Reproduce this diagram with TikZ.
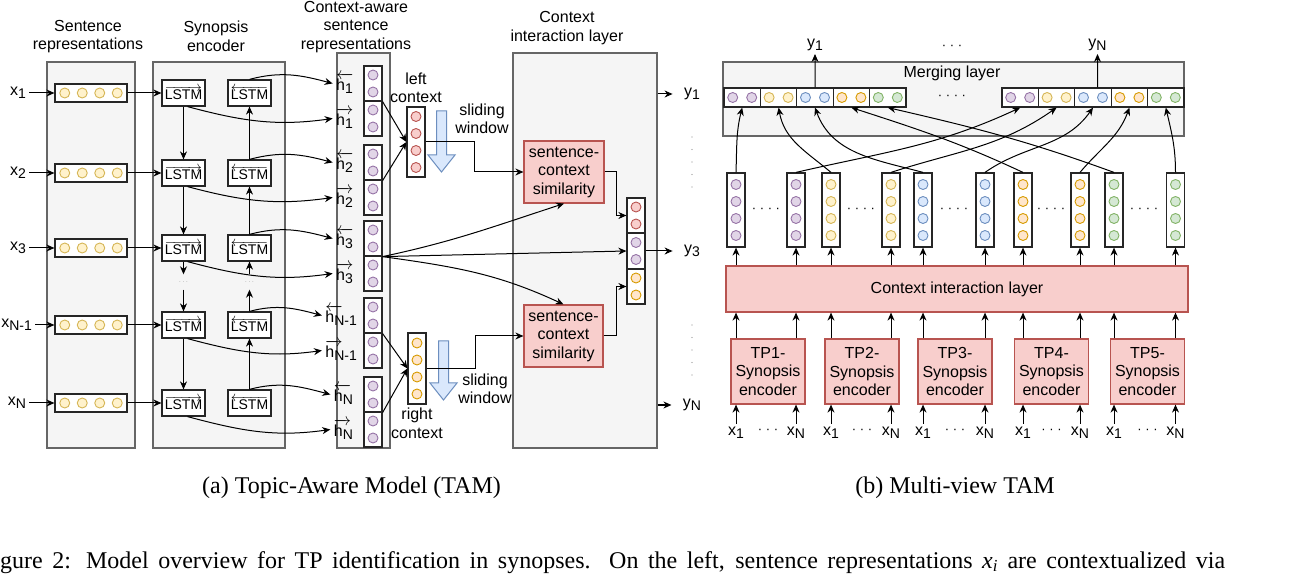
\documentclass[tikz,border=0pt]{standalone}
\usepackage{fontspec}
\setmainfont{Liberation Serif}
\setsansfont{Liberation Sans}
\usepackage{tikz}
\usetikzlibrary{positioning, arrows.meta}

\definecolor{panelfill}{HTML}{F5F5F5}
\definecolor{panelline}{HTML}{666666}
\definecolor{yelfill}{HTML}{FFF2CC}
\definecolor{yelline}{HTML}{D6B656}
\definecolor{purfill}{HTML}{E1D5E7}
\definecolor{purline}{HTML}{9673A6}
\definecolor{redfill}{HTML}{F8CECC}
\definecolor{redline}{HTML}{B85450}
\definecolor{orafill}{HTML}{FFE6CC}
\definecolor{oraline}{HTML}{D79B00}
\definecolor{blufill}{HTML}{DAE8FC}
\definecolor{bluline}{HTML}{6C8EBF}
\definecolor{grnfill}{HTML}{D5E8D4}
\definecolor{grnline}{HTML}{82B366}

\tikzstyle{panel}=[draw=panelline, fill=panelfill, line width=1.2pt, inner sep=0pt]
\tikzstyle{vec box}=[draw=black!85, fill=white, line width=1.2pt, inner sep=0pt]
\tikzset{bead/.style={circle, inner sep=0pt, minimum size=10pt, line width=0.9pt, fill=#1fill, draw=#1line}}
\tikzstyle{lstm box}=[vec box, minimum width=43pt, minimum height=26pt, font=\sffamily\fontsize{14}{16}\selectfont]
\tikzstyle{pink box}=[draw=redline, fill=redfill, line width=1.2pt, inner sep=0pt, align=center]
\tikzstyle{flow edge}=[-{Stealth[length=8pt,width=7pt]}, line width=1pt]
\tikzstyle{exit edge}=[flow edge, shorten >=8pt]
\tikzstyle{slide arrow}=[draw=bluline, fill=blufill, line width=1pt, line join=miter]
\tikzstyle{gap dots}=[inner sep=0pt, minimum height=15pt, font=\fontsize{6}{6}\selectfont, text=black!60]
\tikzstyle{caption}=[font=\rmfamily\fontsize{24}{28}\selectfont, inner sep=0pt]

\newcommand{\lowsub}[1]{\raisebox{-0.4ex}{\fontsize{14}{14}\selectfont #1}}
\newcommand{\hback}{\rlap{$\overleftarrow{\mbox{\phantom{h}}}$}h}
\newcommand{\hfwd}{\rlap{$\overrightarrow{\mbox{\phantom{h}}}$}h}
\newcommand{\threedots}{{\fontsize{13}{13}\selectfont\textperiodcentered\ \textperiodcentered\ \textperiodcentered}}
\newcommand{\fourdots}{{\fontsize{13}{13}\selectfont\textperiodcentered\ \textperiodcentered\ \textperiodcentered\ \textperiodcentered}}
% a row of four beads
\newcommand{\rowvec}[3]{
  \node [vec box, minimum width=72pt, minimum height=18pt] (#1) at (#2) {};
  \foreach \q/\off in {1/-26.25,2/-8.75,3/8.75,4/26.25}
    \node [bead=#3] (#1-\q) at ([xshift=\off pt]#1.center) {};
}
% a column of four beads
\newcommand{\colvec}[4][74pt]{
  \node [vec box, minimum width=18pt, minimum height=#1] (#2) at (#3) {};
  \foreach \q/\off in {1/25.5,2/8.5,3/-8.5,4/-25.5}
    \node [bead=#4] (#2-\q) at ([yshift=\off pt]#2.center) {};
}
% two beads stacked
\newcommand{\pairvec}[3]{
  \node [vec box, minimum width=18pt, minimum height=35pt] (#1) at (#2) {};
  \node [bead=#3] (#1-1) at ([yshift=8.5pt]#1.center) {};
  \node [bead=#3] (#1-2) at ([yshift=-8.5pt]#1.center) {};
}
% two beads side by side
\newcommand{\segvec}[3]{
  \node [vec box, minimum width=36.4pt, minimum height=19pt] (#1) at (#2) {};
  \node [bead=#3] (#1-1) at ([xshift=-9.5pt]#1.center) {};
  \node [bead=#3] (#1-2) at ([xshift=9.5pt]#1.center) {};
}
\newcommand{\windowarrow}[3]{
  \draw [slide arrow] (#1-5,#2) -- (#1+5,#2) -- (#1+5,#3+17) -- (#1+13.5,#3+17)
    -- (#1,#3) -- (#1-13.5,#3+17) -- (#1-5,#3+17) -- cycle
}

\begin{document}
\begin{tikzpicture}[x=1pt, y=1pt, font=\sffamily\fontsize{16}{18.5}\selectfont]
\path[use as bounding box, fill=white] (0,0) rectangle (1307,579);

% (a) topic-aware model
\node[panel, minimum width=88pt, minimum height=386pt] (sentpanel) at (91,324) {};
\node[panel, minimum width=132pt, minimum height=386pt] (synpanel) at (219,324) {};
\node[panel, minimum width=53pt, minimum height=395pt] (ctxpanel) at (363.5,328.5) {};
\node[panel, minimum width=144pt, minimum height=395pt] (cilpanel) at (585,328.5) {};
\node[align=center] (senttitle) at (88,542.5) {Sentence\\representations};
\node[align=center] (syntitle) at (216,542.5) {Synopsis\\encoder};
\node[align=center] (ctxtitle) at (356,552) {Context-aware\\sentence\\representations};
\node[align=center] (ciltitle) at (567,551) {Context\\interaction layer};

\foreach \r/\s/\ry/\jy/\xg/\hg in {1/1/486/478/25pt/7pt, 2/2/406/399/25pt/7pt,
    3/3/331/323/25pt/7pt, 4/N-1/254/246/19pt/3pt, 5/N/176/167/25pt/7pt} {
  \rowvec{sv\r}{91,\ry}{yel};
  \node[left=\xg of sv\r] (x\r) {x\lowsub{\s}};
  \node[lstm box] (fwd\r) at (183.5,\ry) {$\overrightarrow{\mbox{LSTM}}$};
  \node[lstm box] (bwd\r) at (249.5,\ry) {$\overleftarrow{\mbox{LSTM}}$};
  \pairvec{bk\r}{373,\jy+17.5}{pur};
  \pairvec{fw\r}{373,\jy-17.5}{pur};
  \node[left=\hg of bk\r] (lh\r) {\hback\lowsub{\s}};
  \node[left=\hg of fw\r] (rh\r) {\hfwd\lowsub{\s}};
  \draw[flow edge] (x\r) -- (sv\r);
  \draw[flow edge] (sv\r) -- (fwd\r);
  \draw[flow edge] (bwd\r.north) to[out=15,in=165] (lh\r.west);
  \draw[flow edge] ([xshift=4pt]fwd\r.south) to[out=-15,in=188] (rh\r.west);
}
\foreach \a/\b in {1/2, 2/3, 4/5} {
  \draw[flow edge] (fwd\a) -- (fwd\b);
  \draw[flow edge] (bwd\b) -- (bwd\a);
}
\node[gap dots] (fdots) at (183.5,297) {$\cdots$};
\node[gap dots] (bdots) at (249.5,297) {$\cdots$};
\draw[flow edge] (fwd3) -- (fdots);
\draw[flow edge] (fdots) -- (fwd4);
\draw[flow edge] (bdots) -- (bwd3);
\draw[flow edge] (bwd4) -- (bdots);

% left and right context
\colvec[70pt]{lc}{416,437}{red};
\colvec[71pt]{rc}{417,210.5}{ora};
\node[above=0pt of lc, align=center] (lclabel) {left\\context};
\node[below=0pt of rc, align=center] (rclabel) {right\\context};
\draw[flow edge] (bk1.south east) -- (lc.west);
\draw[flow edge] (bk2.south east) -- (lc.west);
\draw[flow edge] (bk4.south east) -- (rc.west);
\draw[flow edge] (bk5.south east) -- (rc.west);
\windowarrow{441.5}{468}{407};
\windowarrow{443.5}{238}{179};
\node[align=center] (sw1) at (482,460) {sliding\\window};
\node[align=center] (sw2) at (485,190) {sliding\\window};

\node[pink box, minimum width=80pt, minimum height=62pt] (sim1) at (564,407) {sentence-\\context\\similarity};
\node[pink box, minimum width=79pt, minimum height=62pt] (sim2) at (563.5,243) {sentence-\\context\\similarity};
\pairvec{cr}{636,363.5}{red};
\pairvec{cp}{636,328}{pur};
\pairvec{co}{636,292.5}{ora};
\draw[flow edge] (lc.east) -- ++(49,0) |- (sim1.west);
\draw[flow edge] (rc.east) -- ++(49,0) |- (sim2.west);
\draw[flow edge] (sim1.east) -- ++(12,0) |- (cr.west);
\draw[flow edge] (sim2.east) -- ++(13,0) |- (co.west);
\draw[flow edge] (bk3.south east) to[out=12,in=198] (sim1.south);
\draw[flow edge] (bk3.south east) -- (cp.west);
\draw[flow edge] (bk3.south east) to[out=-8,in=155] (sim2.north);

\node (y1) at (692,485) {y\lowsub{1}};
\node (y3) at (692,328) {y\lowsub{3}};
\node (yN) at (692,174) {y\lowsub{N}};
\draw[exit edge] (cilpanel.east |- y1) -- (y1);
\draw[exit edge] (cp.east) -- (y3);
\draw[exit edge] (cilpanel.east |- yN) -- (yN);
\foreach \yy in {442,429.5,417,404.5,392,254,241.5,229,216.5,204}
  \fill[black!45] (692,\yy) circle (0.7pt);

% (b) multi-view model
\node[panel, minimum width=461pt, minimum height=74pt] (mergepanel) at (953.5,480) {};
\node (mergetitle) at (952,506) {Merging layer};
\foreach \k/\cl in {1/pur,2/yel,3/blu,4/ora,5/grn} {
  \segvec{L\k}{705.8+36.4*\k,481.5}{\cl};
  \segvec{R\k}{983.8+36.4*\k,481.5}{\cl};
}
\node (mdots) at (952,481.5) {\fourdots};
\node (ydots) at (952,532) {\threedots};
\node[anchor=south] (ym1) at (815,525) {y\lowsub{1}};
\node[anchor=south] (ymN) at (1097.5,525) {y\lowsub{N}};
\draw[flow edge] (L3.north) -- (ym1);
\draw[flow edge] ([xshift=4.5pt]R3.north) -- (ymN);

\foreach \k/\vx/\cl in {1/736/pur, 2/796/pur, 3/831/yel, 4/891/yel, 5/923/blu,
    6/985/blu, 7/1023/ora, 8/1080/ora, 9/1114/grn, 10/1175.5/grn}
  \colvec{v\k}{\vx,369}{\cl};
\foreach \k/\dx in {1/766,2/861,3/954,4/1051,5/1144}
  \node (vdots\k) at (\dx,369) {\fourdots};
\foreach \a/\b/\o/\i in {v1/L1/88/-104, v2/R1/13/-155, v3/L2/140/-80, v4/R2/18/-145,
    v5/L3/165/-70, v6/R3/35/-125, v7/L4/155/-18, v8/R4/50/-110, v9/L5/160/-13, v10/R5/90/-77}
  \draw[flow edge] (\a.north) to[out=\o,in=\i] (\b.south);

\node[pink box, minimum width=462pt, minimum height=46pt] (cilbar) at (957,290) {Context interaction layer};
\foreach \tp/\tx/\a/\b in {1/768/v1/v2, 2/862/v3/v4, 3/955/v5/v6, 4/1051.5/v7/v8, 5/1147.5/v9/v10} {
  \node[pink box, minimum width=74pt, minimum height=65pt] (tp\tp) at (\tx,207.5) {TP\tp-\\Synopsis\\encoder};
  \node (xa\tp) at (\a |- 0,146) {x\lowsub{1}};
  \node (xb\tp) at (\b |- 0,146) {x\lowsub{N}};
  \node (xd\tp) at (\tx,148) {\threedots};
  \draw[flow edge] (xa\tp) -- (xa\tp |- tp\tp.south);
  \draw[flow edge] (xb\tp) -- (xb\tp |- tp\tp.south);
  \foreach \v in {\a,\b} {
    \draw[flow edge] (\v |- tp\tp.north) -- (\v |- cilbar.south);
    \draw[flow edge] (\v |- cilbar.north) -- (\v.south);
  }
}

% captions
\node[caption, anchor=base] (capa) at (351.5,86) {(a) Topic-Aware Model (TAM)};
\node[caption, anchor=base] (capb) at (955,86) {(b) Multi-view TAM};
\node[caption, anchor=base west] (figcap) at (0,11) {\makebox[1225pt][s]{gure 2: Model overview for TP identification in synopses. On the left, sentence representations \textit{x}\textsubscript{\textit{i}} are contextualized via}};
\end{tikzpicture}
\end{document}
